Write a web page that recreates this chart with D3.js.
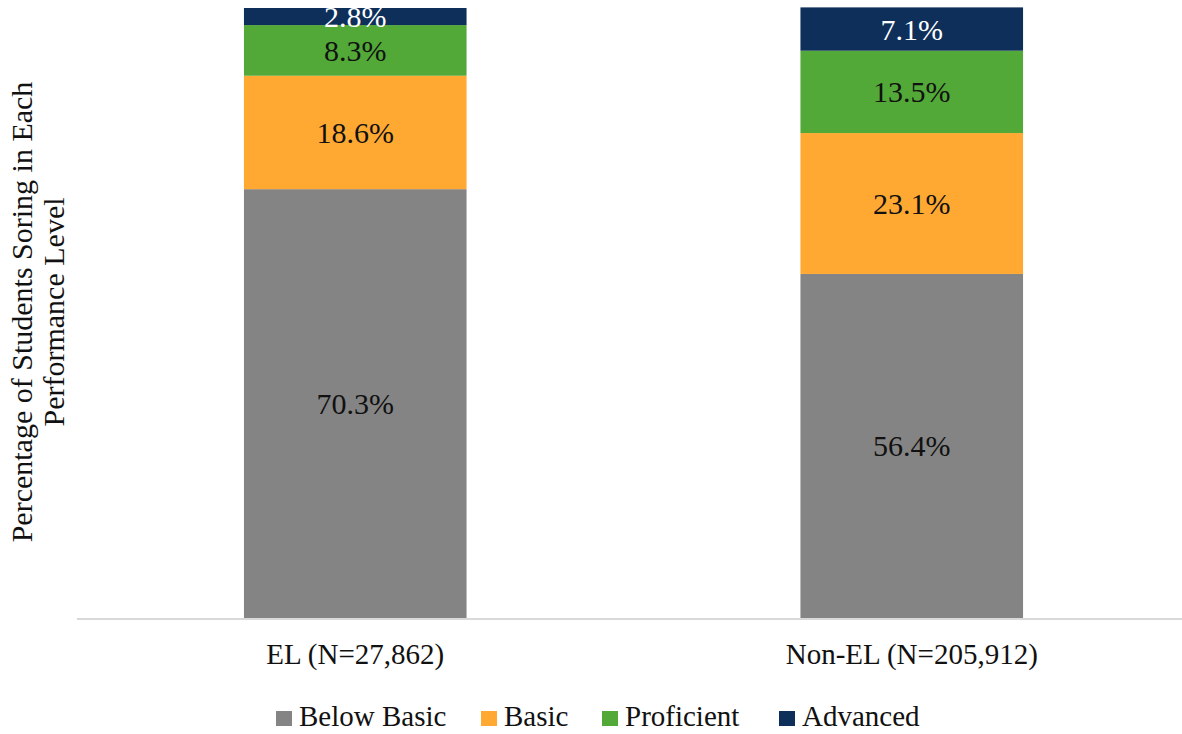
<!DOCTYPE html>
<html>
<head>
<meta charset="utf-8">
<script src="https://cdn.jsdelivr.net/npm/d3@7"></script>
<style>
  html, body { margin: 0; padding: 0; background: #fff; }
  svg { display: block; font-family: "Liberation Serif", "Times New Roman", serif; }
</style>
</head>
<body>
<svg id="chart" width="1182" height="734"></svg>
<script>
// Performance level shares (%) by student group
const groups = ["EL (N=27,862)", "Non-EL (N=205,912)"];
const levels = ["Below Basic", "Basic", "Proficient", "Advanced"];
const belowBasic = [70.3, 56.4];
const basic = [18.6, 23.1];
const proficient = [8.3, 13.5];
const advanced = [2.8, 7.1];
const levelColors = ["#848484", "#FFA933", "#52A938", "#0E2F59"];
const labelColors = ["#111", "#111", "#111", "#fff"];
const yTitleLines = ["Percentage of Students Soring in Each", "Performance Level"];

const rows = groups.map((g, i) => ({
  group: g,
  "Below Basic": belowBasic[i],
  "Basic": basic[i],
  "Proficient": proficient[i],
  "Advanced": advanced[i]
}));

const svg = d3.select("#chart");

const x = d3.scaleBand().domain(groups).range([77, 1190])
  .paddingInner(0.6).paddingOuter(0.3);
const y = d3.scaleLinear().domain([0, 100]).range([618, 8]);
const color = d3.scaleOrdinal().domain(levels).range(levelColors);
const textColor = d3.scaleOrdinal().domain(levels).range(labelColors);

const stacked = d3.stack().keys(levels)(rows);

svg.append("defs").append("clipPath").attr("id", "plot-clip")
  .append("rect").attr("x", 0).attr("y", y(100)).attr("width", 1182).attr("height", y(0) - y(100));

const layer = svg.append("g").selectAll("g")
  .data(stacked).join("g")
  .attr("fill", d => color(d.key));

layer.selectAll("rect")
  .data(d => d)
  .join("rect")
  .attr("x", d => x(d.data.group))
  .attr("width", x.bandwidth())
  .attr("y", d => y(d[1]))
  .attr("height", d => y(d[0]) - y(d[1]));

// Value labels centred in each segment
const labels = svg.append("g")
  .attr("clip-path", "url(#plot-clip)")
  .attr("text-anchor", "middle").attr("font-size", 30);
stacked.forEach(s => {
  labels.selectAll(null)
    .data(s)
    .join("text")
    .attr("x", d => x(d.data.group) + x.bandwidth() / 2)
    .attr("y", d => (y(d[0]) + y(d[1])) / 2)
    .attr("dy", "0.35em")
    .attr("fill", textColor(s.key))
    .text(d => d3.format(".1f")(d[1] - d[0]) + "%");
});

// Category axis
const xAxis = svg.append("g")
  .attr("transform", `translate(0,${y(0)})`)
  .call(d3.axisBottom(x).tickSize(0).tickPadding(0));
xAxis.select(".domain").remove();
xAxis.append("line")
  .attr("x1", 77).attr("x2", 1182)
  .attr("y1", 1).attr("y2", 1)
  .attr("stroke", "#d9d9d9").attr("stroke-width", 2);
xAxis.selectAll(".tick text")
  .attr("y", 46)
  .attr("dy", 0)
  .attr("font-family", "Liberation Serif, serif")
  .attr("font-size", 29)
  .attr("fill", "#111");

// Y axis title
const titleX = [32, 64];
yTitleLines.forEach((line, i) => {
  svg.append("text")
    .attr("transform", `translate(${titleX[i]},312) rotate(-90)`)
    .attr("text-anchor", "middle")
    .attr("font-size", 30)
    .attr("fill", "#111")
    .text(line);
});

// Legend
const legendX = [276, 481, 602, 779];
const legend = svg.append("g").selectAll("g")
  .data(levels).join("g")
  .attr("transform", (d, i) => `translate(${legendX[i]},711)`);
legend.append("rect")
  .attr("width", 16).attr("height", 15)
  .attr("fill", d => color(d));
legend.append("text")
  .attr("x", 23).attr("y", 15)
  .attr("font-size", 29)
  .attr("fill", "#111")
  .text(d => d);
</script>
</body>
</html>
